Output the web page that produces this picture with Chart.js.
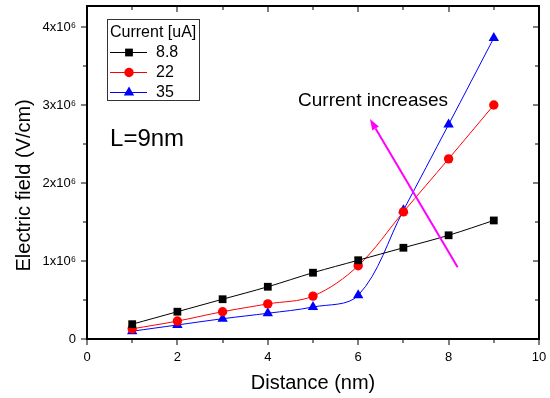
<!DOCTYPE html>
<html>
<head>
<meta charset="utf-8">
<script src="https://cdn.jsdelivr.net/npm/chart.js@4.4.1/dist/chart.umd.min.js"></script>
<style>
html,body{margin:0;padding:0;background:#fff;}
#wrap{width:550px;height:398px;position:relative;}
</style>
</head>
<body>
<div id="wrap"><canvas id="c" width="550" height="398"></canvas></div>
<script>
// ---- data ----
const distance = [1, 2, 3, 4, 5, 6, 7, 8, 9];
const field_8_8 = [1.9e5, 3.5e5, 5.1e5, 6.7e5, 8.5e5, 1.01e6, 1.17e6, 1.33e6, 1.52e6];
const field_22  = [1.3e5, 2.3e5, 3.5e5, 4.5e5, 5.5e5, 9.4e5, 1.63e6, 2.31e6, 3.00e6];
const field_35  = [1.0e5, 1.8e5, 2.6e5, 3.3e5, 4.1e5, 5.6e5, 1.65e6, 2.75e6, 3.86e6];
const seriesNames = ['8.8', '22', '35'];
const legendTitle = 'Current [uA]';
const xTickValues = [0, 1, 2, 3, 4, 5, 6, 7, 8, 9, 10];
const xTickLabels = ['0', '', '2', '', '4', '', '6', '', '8', '', '10'];
const yTickValues = [0, 0.5e6, 1e6, 1.5e6, 2e6, 2.5e6, 3e6, 3.5e6, 4e6];
const yTickLabels = ['0', '', '1x10\u2076', '', '2x10\u2076', '', '3x10\u2076', '', '4x10\u2076'];
const xTitle = 'Distance (nm)';
const yTitle = 'Electric field (V/cm)';
const noteText = 'Current increases';
const labelText = 'L=9nm';
// arrow (data coordinates): tail, head
const arrowTail = [8.2, 0.92e6];
const arrowHead = [6.26, 2.82e6];
const notePos = [4.67, 3.06e6];
const labelPos = [0.51, 2.56e6];

const FONT = '"Liberation Sans", Arial, sans-serif';

function pts(ys) { return distance.map((x, i) => ({x: x, y: ys[i]})); }

const colors = ['#000000', '#ff0000', '#0000ff'];
const styles = ['rect', 'circle', 'triangle'];
const radii = [5.5, 4.7, 6];
const allSeries = [field_8_8, field_22, field_35];

const datasets = allSeries.map((s, i) => ({
  label: seriesNames[i],
  data: pts(s),
  borderColor: colors[i],
  backgroundColor: colors[i],
  pointBackgroundColor: colors[i],
  pointBorderColor: colors[i],
  pointStyle: styles[i],
  pointRadius: radii[i],
  pointBorderWidth: 0,
  borderWidth: 1,
  tension: 0.35,
  fill: false
}));

function drawMarker(ctx, style, x, y, r, color) {
  ctx.fillStyle = color;
  ctx.beginPath();
  if (style === 'rect') {
    const s = r * Math.SQRT1_2;
    ctx.rect(x - s, y - s, 2 * s, 2 * s);
  } else if (style === 'circle') {
    ctx.arc(x, y, r, 0, Math.PI * 2);
  } else {
    const a = -Math.PI / 2;
    for (let k = 0; k < 3; k++) {
      const t = a + k * 2 * Math.PI / 3;
      if (k === 0) ctx.moveTo(x + Math.cos(t) * r, y + Math.sin(t) * r);
      else ctx.lineTo(x + Math.cos(t) * r, y + Math.sin(t) * r);
    }
    ctx.closePath();
  }
  ctx.fill();
}

function frameRects(chart) {
  const xs = chart.scales.x, ys = chart.scales.y;
  const L = Math.round(xs.getPixelForValue(0));
  const R = Math.round(xs.getPixelForValue(10));
  const B = Math.round(ys.getPixelForValue(0));
  const T = Math.round(ys.getPixelForValue(4.27e6));
  const r = [
    [L - 1, T - 1, 2, B - T + 2], [R - 1, T - 1, 2, B - T + 2],
    [L - 1, T - 1, R - L + 2, 2], [L - 1, B - 1, R - L + 2, 2]
  ];
  xTickValues.forEach((v, i) => {
    const px = Math.round(xs.getPixelForValue(v));
    const len = xTickLabels[i] !== '' ? 6 : 4;
    r.push([px - 0.5, B, 1, len]);
    r.push([px - 0.5, T, 1, len]);
  });
  yTickValues.forEach((v, i) => {
    const py = Math.round(ys.getPixelForValue(v));
    const len = yTickLabels[i] !== '' ? 6 : 4;
    r.push([L - len, py - 0.5, len, 1]);
    r.push([R - len, py - 0.5, len, 1]);
  });
  return r;
}

const decor = {
  id: 'decor',
  afterDraw(chart) {
    const ctx = chart.ctx;
    const xs = chart.scales.x, ys = chart.scales.y;
    const a = chart.chartArea;
    ctx.save();
    ctx.fillStyle = '#000';
    frameRects(chart).forEach(([x, y, w, h]) => ctx.fillRect(x, y, w, h));

    // axis titles
    ctx.font = '20px ' + FONT;
    ctx.textAlign = 'center';
    ctx.textBaseline = 'middle';
    ctx.fillText(xTitle, (a.left + a.right) / 2, 383);
    ctx.save();
    ctx.translate(24, ys.getPixelForValue(1.97e6));
    ctx.rotate(-Math.PI / 2);
    ctx.fillText(yTitle, 0, 0);
    ctx.restore();

    // annotations
    ctx.textAlign = 'left';
    ctx.font = '19px ' + FONT;
    ctx.fillText(noteText, xs.getPixelForValue(notePos[0]), ys.getPixelForValue(notePos[1]));
    ctx.font = '24px ' + FONT;
    ctx.fillText(labelText, xs.getPixelForValue(labelPos[0]), ys.getPixelForValue(labelPos[1]));

    // arrow
    const tx = xs.getPixelForValue(arrowTail[0]), ty = ys.getPixelForValue(arrowTail[1]);
    const hx = xs.getPixelForValue(arrowHead[0]), hy = ys.getPixelForValue(arrowHead[1]);
    const ang = Math.atan2(hy - ty, hx - tx);
    const AL = 11, AW = 3.8;
    const bx = hx - Math.cos(ang) * AL, by = hy - Math.sin(ang) * AL;
    ctx.strokeStyle = '#ff00ff';
    ctx.fillStyle = '#ff00ff';
    ctx.lineWidth = 2;
    ctx.beginPath();
    ctx.moveTo(tx, ty); ctx.lineTo(bx, by);
    ctx.stroke();
    ctx.beginPath();
    ctx.moveTo(hx, hy);
    ctx.lineTo(bx + Math.sin(ang) * AW, by - Math.cos(ang) * AW);
    ctx.lineTo(bx - Math.sin(ang) * AW, by + Math.cos(ang) * AW);
    ctx.closePath();
    ctx.fill();

    // legend
    ctx.strokeStyle = '#333';
    ctx.lineWidth = 1;
    ctx.strokeRect(107.5, 19.5, 92, 81);
    ctx.fillStyle = '#000';
    ctx.font = '16px ' + FONT;
    ctx.textBaseline = 'middle';
    ctx.fillText(legendTitle, 110, 33);
    for (let i = 0; i < 3; i++) {
      const yy = 52 + i * 20;
      ctx.strokeStyle = colors[i];
      ctx.lineWidth = 1;
      ctx.beginPath();
      ctx.moveTo(110, yy + 0.5); ctx.lineTo(147, yy + 0.5);
      ctx.stroke();
      drawMarker(ctx, styles[i], 129, yy + 0.5, radii[i], colors[i]);
      ctx.fillStyle = '#000';
      ctx.fillText(seriesNames[i], 156, yy + 1);
    }
    ctx.restore();
  }
};

function zeroPad(s) { s.paddingTop = 0; s.paddingBottom = 0; s.paddingLeft = 0; s.paddingRight = 0; }

new Chart(document.getElementById('c'), {
  type: 'line',
  data: { datasets: datasets },
  options: {
    responsive: false,
    animation: false,
    devicePixelRatio: 1,
    layout: { padding: { top: 6, right: 11, left: 0, bottom: 0 } },
    plugins: { legend: { display: false }, tooltip: { enabled: false } },
    scales: {
      x: {
        type: 'linear',
        min: 0, max: 10,
        grid: { display: false, drawTicks: false },
        border: { display: false },
        afterBuildTicks: (s) => { s.ticks = xTickValues.map(v => ({value: v})); },
        ticks: {
          autoSkip: false,
          maxRotation: 0,
          padding: 11,
          color: '#000',
          font: { family: FONT, size: 13 },
          callback: (v) => { const i = xTickValues.indexOf(v); return i >= 0 ? xTickLabels[i] : ''; }
        },
        afterFit: (s) => { s.height = 59; zeroPad(s); }
      },
      y: {
        type: 'linear',
        min: 0, max: 4.27e6,
        grid: { display: false, drawTicks: false },
        border: { display: false },
        afterBuildTicks: (s) => { s.ticks = yTickValues.map(v => ({value: v})); },
        ticks: {
          autoSkip: false,
          padding: 11,
          color: '#000',
          font: { family: FONT, size: 13 },
          callback: (v) => { const i = yTickValues.indexOf(v); return i >= 0 ? yTickLabels[i] : ''; }
        },
        afterFit: (s) => { s.width = 87; zeroPad(s); }
      }
    }
  },
  plugins: [decor]
});
</script>
</body>
</html>
